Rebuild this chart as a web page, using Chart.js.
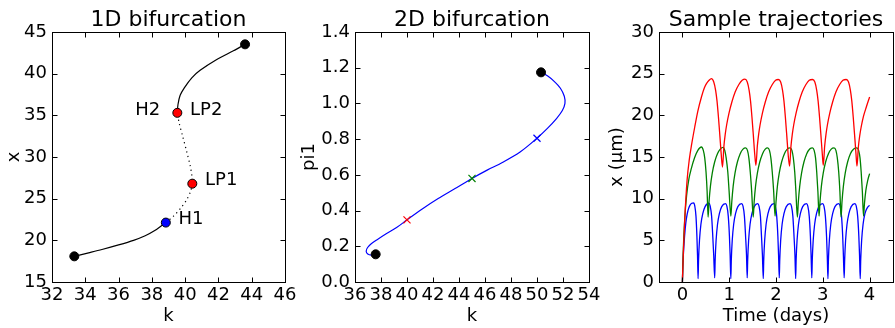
<!DOCTYPE html>
<html>
<head>
<meta charset="utf-8">
<script src="https://cdn.jsdelivr.net/npm/chart.js@4.4.1/dist/chart.umd.min.js"></script>
<style>
  html, body { margin: 0; padding: 0; background: #fff; }
  #wrap { position: relative; width: 895px; height: 328px; overflow: hidden; }
  canvas { position: absolute; top: 0; }
</style>
</head>
<body>
<div id="wrap">
  <canvas id="c1" width="310" height="328" style="left:0px"></canvas>
  <canvas id="c2" width="309" height="328" style="left:296px"></canvas>
  <canvas id="c3" width="300" height="328" style="left:595px"></canvas>
</div>
<script>
// ---- 1D bifurcation: equilibrium branch x(k) ----
const lowerK = [33.34, 34.2, 35.0, 36.0, 36.9, 37.6, 38.2, 38.84];
const lowerX = [18.08, 18.5, 18.9, 19.45, 20.0, 20.55, 21.2, 22.13];
const unstableK = [38.84, 39.3, 39.75, 40.1, 40.33, 40.43, 40.4, 40.3, 40.1, 39.85, 39.65, 39.53];
const unstableX = [22.13, 22.9, 23.9, 24.9, 25.9, 26.8, 27.8, 29.0, 30.6, 32.5, 34.0, 35.3];
const upperK = [39.53, 39.57, 39.7, 39.95, 40.4, 40.9, 41.9, 42.9, 43.6];
const upperX = [35.3, 36.3, 37.4, 38.3, 39.5, 40.4, 41.7, 42.75, 43.52];
const endK = [33.34, 43.6];
const endX = [18.08, 43.52];
const hopfK = [38.84];
const hopfX = [22.13];
const foldK = [40.43, 39.53];
const foldX = [26.8, 35.3];
const labelNames = ['H2', 'LP2', 'LP1', 'H1'];
const labelK = [39.53, 39.53, 40.43, 38.84];
const labelX = [35.3, 35.3, 26.8, 22.13];
const k1Ticks = [32, 34, 36, 38, 40, 42, 44, 46];
const x1Ticks = [15, 20, 25, 30, 35, 40, 45];

// ---- 2D bifurcation: Hopf curve in (k, pi1) ----
const hopfCurveK = [37.59, 37.25, 36.98, 36.86, 36.97, 37.25, 37.7, 38.4, 39.2, 40.0, 41.2, 42.4,
  43.7, 45.0, 46.2, 47.3, 48.7, 50.0, 50.8, 51.5, 51.95, 52.15, 52.1, 51.8, 51.3, 50.8, 50.31];
const hopfCurvePi = [0.155, 0.151, 0.157, 0.172, 0.193, 0.214, 0.237, 0.27, 0.305, 0.348, 0.41, 0.467,
  0.523, 0.58, 0.628, 0.668, 0.728, 0.805, 0.86, 0.915, 0.96, 1.0, 1.04, 1.085, 1.125, 1.155, 1.174];
const curveEndK = [37.59, 50.31];
const curveEndPi = [0.155, 1.174];
const sampleK = [40.0, 45.0, 50.0];
const samplePi = [0.348, 0.58, 0.805];
const sampleColors = ['#ff0000', '#008000', '#0000ff'];
const k2Ticks = [36, 38, 40, 42, 44, 46, 48, 50, 52, 54];
const pi2Ticks = [0.0, 0.2, 0.4, 0.6, 0.8, 1.0, 1.2, 1.4];

// ---- Sample trajectories x(t) ----
const redT = [0, 0.02, 0.05, 0.1, 0.15, 0.2, 0.264, 0.33, 0.407, 0.47, 0.514, 0.57, 0.62,
  0.67, 0.71, 0.74, 0.77, 0.8, 0.83, 0.857,
  0.887, 0.917, 0.947, 0.997, 1.057, 1.127, 1.207, 1.277, 1.336, 1.386, 1.426, 1.456, 1.486, 1.516, 1.546, 1.571,
  1.601, 1.631, 1.661, 1.711, 1.771, 1.841, 1.921, 1.991, 2.05, 2.10, 2.14, 2.17, 2.20, 2.23, 2.26, 2.29,
  2.32, 2.35, 2.38, 2.43, 2.49, 2.56, 2.64, 2.71, 2.78, 2.83, 2.87, 2.90, 2.93, 2.96, 2.99, 3.01,
  3.04, 3.07, 3.10, 3.15, 3.21, 3.28, 3.36, 3.43, 3.50, 3.55, 3.59, 3.62, 3.65, 3.68, 3.71, 3.73,
  3.76, 3.79, 3.82, 3.87, 3.93, 4.0];
const redX = [0, 3.5, 7.5, 12.2, 14.8, 16.6, 18.6, 20.5, 22.2, 23.3, 23.8, 24.2, 24.4,
  24.0, 23.0, 21.7, 19.8, 17.6, 15.3, 13.8,
  16.3, 17.8, 18.9, 20.3, 21.6, 22.8, 23.7, 24.2, 24.35, 24.0, 23.0, 21.7, 19.8, 17.6, 15.3, 14.0,
  16.3, 17.8, 18.9, 20.3, 21.6, 22.8, 23.7, 24.2, 24.3, 24.0, 23.0, 21.7, 19.8, 17.6, 15.3, 13.9,
  16.3, 17.8, 18.9, 20.3, 21.6, 22.8, 23.7, 24.2, 24.3, 24.0, 23.0, 21.7, 19.8, 17.6, 15.3, 14.0,
  16.3, 17.8, 18.9, 20.3, 21.6, 22.8, 23.7, 24.2, 24.3, 24.0, 23.0, 21.7, 19.8, 17.6, 15.3, 13.9,
  16.2, 17.6, 18.6, 19.9, 21.0, 22.2];
const greenT = [0, 0.02, 0.05, 0.09, 0.14, 0.19, 0.26, 0.33, 0.407, 0.447, 0.477, 0.505, 0.528, 0.549,
  0.569, 0.599, 0.639, 0.689, 0.749, 0.809, 0.87, 0.905, 0.935, 0.97, 0.998, 1.035,
  1.055, 1.085, 1.125, 1.175, 1.235, 1.295, 1.35, 1.39, 1.42, 1.45, 1.48, 1.513,
  1.533, 1.563, 1.603, 1.653, 1.713, 1.77, 1.82, 1.86, 1.89, 1.92, 1.95, 1.98,
  2.0, 2.03, 2.07, 2.12, 2.18, 2.24, 2.30, 2.34, 2.37, 2.40, 2.425, 2.457,
  2.477, 2.507, 2.547, 2.597, 2.657, 2.72, 2.78, 2.815, 2.845, 2.87, 2.895, 2.92,
  2.94, 2.97, 3.01, 3.06, 3.12, 3.18, 3.24, 3.28, 3.31, 3.34, 3.365, 3.39,
  3.41, 3.44, 3.48, 3.53, 3.59, 3.66, 3.73, 3.765, 3.795, 3.82, 3.845, 3.87,
  3.89, 3.92, 3.96, 4.0];
const greenX = [0, 4.0, 7.6, 10.4, 12.4, 13.6, 14.9, 15.8, 16.2, 15.8, 14.9, 13.2, 10.9, 7.8,
  9.6, 11.5, 13.1, 14.4, 15.4, 15.95, 16.15, 15.8, 14.9, 13.2, 10.9, 7.9,
  9.6, 11.5, 13.1, 14.4, 15.4, 15.95, 16.1, 15.8, 14.9, 13.2, 10.9, 7.8,
  9.6, 11.5, 13.1, 14.4, 15.4, 15.95, 16.1, 15.8, 14.9, 13.2, 10.9, 7.9,
  9.6, 11.5, 13.1, 14.4, 15.4, 15.95, 16.1, 15.8, 14.9, 13.2, 10.9, 7.8,
  9.6, 11.5, 13.1, 14.4, 15.4, 15.95, 16.1, 15.8, 14.9, 13.2, 10.9, 7.9,
  9.6, 11.5, 13.1, 14.4, 15.4, 15.95, 16.1, 15.8, 14.9, 13.2, 10.9, 7.8,
  9.6, 11.5, 13.1, 14.4, 15.4, 15.95, 16.1, 15.8, 14.9, 13.2, 10.9, 7.9,
  9.4, 11.0, 12.2, 13.0];
const blueT = [0, 0.01, 0.035, 0.06, 0.085, 0.12, 0.16, 0.2, 0.242, 0.265, 0.29, 0.31, 0.323, 0.335,
  0.345, 0.365, 0.395, 0.435, 0.485, 0.564, 0.594, 0.624, 0.649, 0.669, 0.69,
  0.70, 0.72, 0.75, 0.79, 0.84, 0.92, 0.95, 0.98, 1.005, 1.02, 1.035,
  1.045, 1.065, 1.095, 1.135, 1.185, 1.265, 1.295, 1.325, 1.35, 1.37, 1.385,
  1.395, 1.415, 1.445, 1.485, 1.535, 1.607, 1.637, 1.667, 1.69, 1.71, 1.728,
  1.738, 1.758, 1.788, 1.828, 1.878, 1.955, 1.985, 2.015, 2.04, 2.055, 2.07,
  2.08, 2.10, 2.13, 2.17, 2.22, 2.30, 2.33, 2.36, 2.385, 2.405, 2.42,
  2.43, 2.45, 2.48, 2.52, 2.57, 2.65, 2.68, 2.71, 2.735, 2.75, 2.765,
  2.775, 2.795, 2.825, 2.865, 2.915, 2.995, 3.025, 3.055, 3.08, 3.095, 3.11,
  3.12, 3.14, 3.17, 3.21, 3.26, 3.34, 3.37, 3.40, 3.425, 3.44, 3.457,
  3.467, 3.487, 3.517, 3.557, 3.607, 3.685, 3.715, 3.745, 3.77, 3.785, 3.80,
  3.81, 3.83, 3.86, 3.9, 3.95, 4.0];
const blueX = [0, 2.0, 4.6, 6.4, 7.6, 8.6, 9.2, 9.45, 9.5, 9.1, 7.9, 5.5, 3.2, 0.4,
  2.6, 5.0, 6.9, 8.2, 9.05, 9.45, 9.1, 7.9, 5.5, 3.2, 0.5,
  2.6, 5.0, 6.9, 8.2, 9.05, 9.4, 9.1, 7.9, 5.5, 3.2, 0.4,
  2.6, 5.0, 6.9, 8.2, 9.05, 9.4, 9.1, 7.9, 5.5, 3.2, 0.5,
  2.6, 5.0, 6.9, 8.2, 9.05, 9.4, 9.1, 7.9, 5.5, 3.2, 0.4,
  2.6, 5.0, 6.9, 8.2, 9.05, 9.4, 9.1, 7.9, 5.5, 3.2, 0.5,
  2.6, 5.0, 6.9, 8.2, 9.05, 9.4, 9.1, 7.9, 5.5, 3.2, 0.4,
  2.6, 5.0, 6.9, 8.2, 9.05, 9.4, 9.1, 7.9, 5.5, 3.2, 0.5,
  2.6, 5.0, 6.9, 8.2, 9.05, 9.4, 9.1, 7.9, 5.5, 3.2, 0.4,
  2.6, 5.0, 6.9, 8.2, 9.05, 9.4, 9.1, 7.9, 5.5, 3.2, 0.5,
  2.6, 5.0, 6.9, 8.2, 9.05, 9.4, 9.1, 7.9, 5.5, 3.2, 0.4,
  2.6, 5.0, 6.9, 8.2, 8.9, 9.2];
const tTicks = [0, 1, 2, 3, 4];
const x3Ticks = [0, 5, 10, 15, 20, 25, 30];

Chart.defaults.font.family = "'DejaVu Sans', sans-serif";
Chart.defaults.color = '#000';

const pts = (xs, ys) => xs.map((v, i) => ({x: v, y: ys[i]}));

// matplotlib-like box with inward ticks on all four sides
const framePlugin = {
  id: 'frame',
  afterDraw(chart) {
    const {ctx, chartArea: a, scales: {x, y}} = chart;
    const L = Math.round(a.left) + 0.5, R = Math.round(a.right) + 0.5;
    const T = Math.round(a.top) + 0.5, B = Math.round(a.bottom) + 0.5;
    const len = 5;
    ctx.save();
    ctx.strokeStyle = '#000';
    ctx.lineWidth = 1;
    ctx.strokeRect(L, T, R - L, B - T);
    ctx.beginPath();
    x.ticks.forEach(t => {
      const p = Math.round(x.getPixelForValue(t.value)) + 0.5;
      ctx.moveTo(p, B); ctx.lineTo(p, B - len);
      ctx.moveTo(p, T); ctx.lineTo(p, T + len);
    });
    y.ticks.forEach(t => {
      const p = Math.round(y.getPixelForValue(t.value)) + 0.5;
      ctx.moveTo(L, p); ctx.lineTo(L + len, p);
      ctx.moveTo(R, p); ctx.lineTo(R - len, p);
    });
    ctx.stroke();
    ctx.restore();
  }
};

// text next to the bifurcation points (offsets in px from the point)
const labelOffsets = {H2: [-17, 2.5], LP2: [12.7, 2.5], LP1: [12.7, 1.7], H1: [12.6, 1]};
const labelPlugin = {
  id: 'bifLabels',
  afterDatasetsDraw(chart) {
    const {ctx, scales: {x, y}} = chart;
    ctx.save();
    ctx.font = "18px 'DejaVu Sans'";
    ctx.fillStyle = '#000';
    ctx.textBaseline = 'alphabetic';
    labelNames.forEach((name, i) => {
      const [dx, dy] = labelOffsets[name];
      ctx.textAlign = dx < 0 ? 'right' : 'left';
      ctx.fillText(name, x.getPixelForValue(labelK[i]) + dx, y.getPixelForValue(labelX[i]) + dy);
    });
    ctx.restore();
  }
};

function scalesFor(o) {
  return {
    x: {
      type: 'linear', min: o.xMin, max: o.xMax,
      afterBuildTicks: s => { s.ticks = o.xTicks.map(v => ({value: v})); },
      afterFit: s => { s.height = 46; },
      grid: {display: false, drawTicks: false},
      border: {display: false},
      ticks: {padding: 3, font: {size: 18}, color: '#000', autoSkip: false, maxRotation: 0, minRotation: 0,
              callback: o.xFmt || (v => String(v))},
      title: {display: true, text: o.xTitle, font: {size: 18}, color: '#000', padding: {top: 0, bottom: 1}}
    },
    y: {
      type: 'linear', min: o.yMin, max: o.yMax,
      afterBuildTicks: s => { s.ticks = o.yTicks.map(v => ({value: v})); },
      afterFit: s => { s.width = o.yWidth; },
      grid: {display: false, drawTicks: false},
      border: {display: false},
      ticks: {padding: 5, font: {size: 18}, color: '#000', autoSkip: false,
              callback: o.yFmt || (v => String(v))},
      title: {display: true, text: o.yTitle, font: {size: 18}, color: '#000', padding: {top: o.yTitlePad, bottom: 0}}
    }
  };
}

function baseOptions(title, padRight, scales) {
  return {
    responsive: false,
    animation: false,
    layout: {padding: {left: 0, right: padRight, top: 0, bottom: 0}},
    plugins: {
      legend: {display: false},
      tooltip: {enabled: false},
      title: {display: true, text: title, fullSize: false, color: '#000',
              font: {size: 22, weight: 'normal', lineHeight: 1}, padding: {top: 9, bottom: 1}}
    },
    scales
  };
}

// Panel 1
new Chart(document.getElementById('c1'), {
  type: 'scatter',
  data: {
    datasets: [
      {data: pts(endK, endX), pointRadius: 4.5, pointBackgroundColor: '#000', pointBorderColor: '#000', pointBorderWidth: 1},
      {data: pts(hopfK, hopfX), pointRadius: 4.5, pointBackgroundColor: '#0000ff', pointBorderColor: '#000', pointBorderWidth: 1},
      {data: pts(foldK, foldX), pointRadius: 4.5, pointBackgroundColor: '#ff0000', pointBorderColor: '#000', pointBorderWidth: 1},
      {data: pts(lowerK, lowerX), showLine: true, pointRadius: 0, borderColor: '#000', borderWidth: 1.2, tension: 0.3},
      {data: pts(unstableK, unstableX), showLine: true, pointRadius: 0, borderColor: '#000', borderWidth: 1.2, tension: 0.3, borderDash: [1.2, 3.5]},
      {data: pts(upperK, upperX), showLine: true, pointRadius: 0, borderColor: '#000', borderWidth: 1.2, tension: 0.3}
    ]
  },
  options: baseOptions('1D bifurcation', 25, scalesFor({
    xMin: 32, xMax: 46, xTicks: k1Ticks, xTitle: 'k',
    yMin: 15, yMax: 45, yTicks: x1Ticks, yTitle: 'x', yWidth: 52, yTitlePad: 4
  })),
  plugins: [framePlugin, labelPlugin]
});

// Panel 2
new Chart(document.getElementById('c2'), {
  type: 'scatter',
  data: {
    datasets: [
      {data: pts(curveEndK, curveEndPi), pointRadius: 4.5, pointBackgroundColor: '#000', pointBorderColor: '#000'},
      {data: pts(sampleK, samplePi), pointStyle: 'crossRot', pointRadius: 5, pointBorderWidth: 1.2,
       pointBorderColor: sampleColors, pointBackgroundColor: sampleColors},
      {data: pts(hopfCurveK, hopfCurvePi), showLine: true, pointRadius: 0, borderColor: '#0000ff', borderWidth: 1.2, tension: 0.3}
    ]
  },
  options: baseOptions('2D bifurcation', 16, scalesFor({
    xMin: 36, xMax: 54, xTicks: k2Ticks, xTitle: 'k',
    yMin: 0, yMax: 1.4, yTicks: pi2Ticks, yTitle: 'pi1', yWidth: 59, yTitlePad: 3,
    yFmt: v => v.toFixed(1)
  })),
  plugins: [framePlugin]
});

// Panel 3
const trajStyle = {showLine: true, pointRadius: 0, borderWidth: 1.3, cubicInterpolationMode: 'monotone'};
new Chart(document.getElementById('c3'), {
  type: 'scatter',
  data: {
    datasets: [
      Object.assign({data: pts(redT, redX), borderColor: '#ff0000'}, trajStyle),
      Object.assign({data: pts(greenT, greenX), borderColor: '#008000'}, trajStyle),
      Object.assign({data: pts(blueT, blueX), borderColor: '#0000ff'}, trajStyle)
    ]
  },
  options: baseOptions('Sample trajectories', 2, scalesFor({
    xMin: -0.5, xMax: 4.5, xTicks: tTicks, xTitle: 'Time (days)',
    yMin: 0, yMax: 30, yTicks: x3Ticks, yTitle: 'x (μm)', yWidth: 64, yTitlePad: 12
  })),
  plugins: [framePlugin]
});
</script>
</body>
</html>
